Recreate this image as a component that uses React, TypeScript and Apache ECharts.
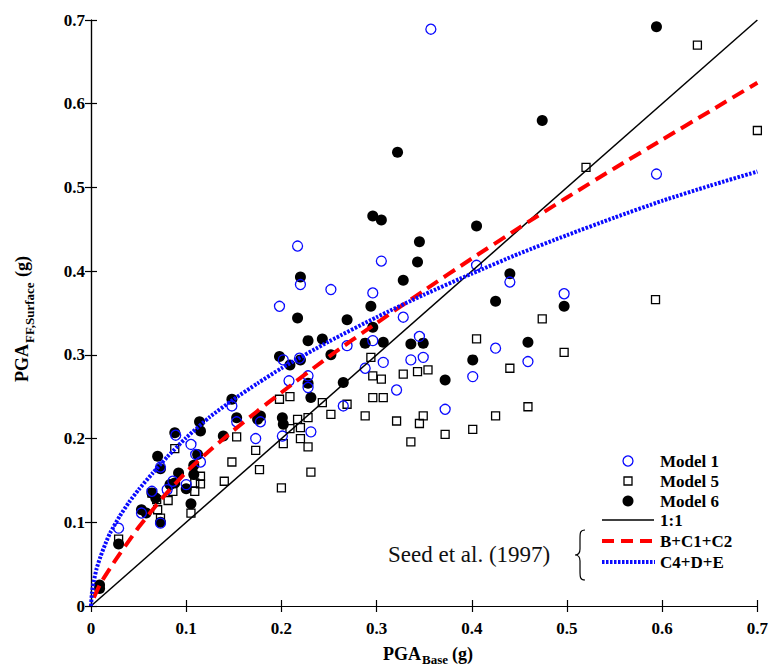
import React, { useEffect, useRef } from "react";
import * as echarts from "echarts";

const tickLabels = ["0", "0.1", "0.2", "0.3", "0.4", "0.5", "0.6", "0.7"];

const model1: number[][] = [
  [0.357, 0.689], [0.594, 0.516], [0.217, 0.43], [0.305, 0.412], [0.22, 0.384],
  [0.252, 0.378], [0.296, 0.374], [0.198, 0.358], [0.328, 0.345], [0.345, 0.322],
  [0.296, 0.317], [0.269, 0.311], [0.202, 0.294], [0.219, 0.296], [0.307, 0.291],
  [0.336, 0.294], [0.349, 0.297], [0.288, 0.284], [0.321, 0.258], [0.208, 0.269],
  [0.228, 0.275], [0.228, 0.261], [0.148, 0.239], [0.265, 0.239], [0.153, 0.22],
  [0.178, 0.22], [0.231, 0.208], [0.173, 0.2], [0.201, 0.203], [0.105, 0.193],
  [0.11, 0.181], [0.115, 0.172], [0.405, 0.407], [0.44, 0.387], [0.497, 0.373],
  [0.425, 0.308], [0.459, 0.292], [0.401, 0.274], [0.372, 0.235], [0.073, 0.166],
  [0.089, 0.204], [0.1, 0.145], [0.08, 0.139], [0.086, 0.149], [0.064, 0.137],
  [0.073, 0.099], [0.053, 0.111], [0.029, 0.093],
];

const model5: number[][] = [
  [0.637, 0.67], [0.52, 0.524], [0.7, 0.568], [0.593, 0.366], [0.294, 0.297],
  [0.328, 0.277], [0.343, 0.28], [0.354, 0.282], [0.296, 0.275], [0.305, 0.271],
  [0.198, 0.247], [0.209, 0.25], [0.243, 0.243], [0.269, 0.241], [0.296, 0.249],
  [0.307, 0.249], [0.288, 0.227], [0.252, 0.229], [0.321, 0.221], [0.345, 0.218],
  [0.349, 0.227], [0.336, 0.196], [0.217, 0.223], [0.228, 0.225], [0.209, 0.212],
  [0.22, 0.213], [0.153, 0.202], [0.22, 0.2], [0.202, 0.194], [0.228, 0.19],
  [0.173, 0.186], [0.474, 0.343], [0.405, 0.319], [0.44, 0.284], [0.497, 0.303],
  [0.372, 0.205], [0.401, 0.211], [0.425, 0.227], [0.459, 0.238], [0.148, 0.172],
  [0.177, 0.163], [0.14, 0.149], [0.2, 0.141], [0.231, 0.16], [0.109, 0.147],
  [0.115, 0.146], [0.109, 0.137], [0.115, 0.155], [0.105, 0.111], [0.086, 0.137],
  [0.088, 0.188], [0.064, 0.135], [0.069, 0.127], [0.07, 0.115], [0.073, 0.105],
  [0.081, 0.126], [0.029, 0.08],
];

const model6: number[][] = [
  [0.594, 0.692], [0.474, 0.58], [0.322, 0.542], [0.296, 0.466], [0.305, 0.461],
  [0.345, 0.435], [0.343, 0.411], [0.22, 0.393], [0.328, 0.389], [0.294, 0.358],
  [0.217, 0.344], [0.269, 0.342], [0.296, 0.333], [0.228, 0.317], [0.243, 0.319],
  [0.288, 0.314], [0.307, 0.315], [0.336, 0.313], [0.349, 0.314], [0.198, 0.298],
  [0.209, 0.288], [0.22, 0.294], [0.252, 0.3], [0.228, 0.266], [0.265, 0.267],
  [0.231, 0.249], [0.148, 0.247], [0.114, 0.22], [0.115, 0.209], [0.153, 0.225],
  [0.178, 0.227], [0.175, 0.223], [0.201, 0.225], [0.202, 0.217], [0.139, 0.203],
  [0.405, 0.454], [0.44, 0.397], [0.425, 0.364], [0.497, 0.358], [0.401, 0.294],
  [0.459, 0.315], [0.372, 0.27], [0.092, 0.159], [0.073, 0.164], [0.07, 0.179],
  [0.088, 0.207], [0.112, 0.181], [0.108, 0.168], [0.108, 0.157], [0.1, 0.14],
  [0.105, 0.122], [0.083, 0.145], [0.088, 0.147], [0.064, 0.135], [0.068, 0.129],
  [0.073, 0.1], [0.053, 0.115], [0.058, 0.111], [0.029, 0.074], [0.009, 0.021],
  [0.009, 0.025],
];

const oneToOne: number[][] = [[0, 0], [0.7, 0.7]];

const curveBC1C2: number[][] = [
  [0.003, 0.01], [0.01, 0.027], [0.02, 0.045], [0.03, 0.062], [0.04, 0.078],
  [0.05, 0.094], [0.075, 0.129], [0.1, 0.16], [0.125, 0.186], [0.15, 0.21],
  [0.175, 0.233], [0.2, 0.255], [0.25, 0.298], [0.3, 0.338], [0.35, 0.377],
  [0.4, 0.415], [0.45, 0.452], [0.5, 0.488], [0.55, 0.523], [0.6, 0.557],
  [0.65, 0.591], [0.7, 0.625],
];

const curveC4DE: number[][] = [
  [0, 0], [0.001, 0.016], [0.003, 0.03], [0.006, 0.045], [0.01, 0.059],
  [0.015, 0.074], [0.02, 0.087], [0.03, 0.107], [0.04, 0.124], [0.05, 0.139],
  [0.065, 0.159], [0.08, 0.178], [0.1, 0.201], [0.125, 0.226], [0.15, 0.247],
  [0.175, 0.266], [0.2, 0.284], [0.25, 0.316], [0.3, 0.345], [0.35, 0.372],
  [0.4, 0.397], [0.45, 0.421], [0.5, 0.443], [0.55, 0.464], [0.6, 0.484],
  [0.65, 0.502], [0.7, 0.519],
];

const FONT = "'Liberation Serif', 'Times New Roman', serif";
const BLUE = "#0a0aff";

let braceRegistered = false;
function registerBrace() {
  if (braceRegistered) return;
  braceRegistered = true;
  const Brace = (echarts.graphic as any).extendPath(
    "M 10 0 C 5 0 5 3 5 9 L 5 19 C 5 23 3 25 0 25 C 3 25 5 27 5 31 L 5 41 C 5 47 5 50 10 50",
    {}
  );
  (echarts.graphic as any).registerShape("brace", Brace);
}

export default function App() {
  const ref = useRef<HTMLDivElement>(null);

  useEffect(() => {
    document.body.style.margin = "0";
    registerBrace();
    const chart = echarts.init(ref.current!, undefined, { renderer: "svg" });

    const axisCommon = {
      type: "value",
      min: 0,
      max: 0.7,
      interval: 0.1,
      splitLine: { show: false },
      axisLine: { show: true, lineStyle: { color: "#000", width: 1.2 } },
      axisTick: { show: true, inside: true, length: 6, lineStyle: { color: "#000", width: 1.2 } },
    };
    const labelStyle = {
      color: "#000",
      fontFamily: FONT,
      fontWeight: "bold",
      fontSize: 17,
      formatter: (v: number) => tickLabels[Math.round(v * 10)],
    };

    const legendY = [461, 481, 501, 520, 541, 562];

    chart.setOption({
      animation: false,
      backgroundColor: "#fff",
      grid: { left: 91, right: 10, top: 20, bottom: 62 },
      xAxis: [
        { ...axisCommon, position: "bottom", axisLabel: { ...labelStyle, margin: 14 } },
        { ...axisCommon, position: "top", axisLabel: { show: false } },
      ],
      yAxis: [
        { ...axisCommon, position: "left", axisLabel: { ...labelStyle, margin: 6 } },
        { ...axisCommon, position: "right", axisLabel: { show: false } },
      ],
      series: [
        {
          name: "Model 5",
          type: "scatter",
          data: model5,
          symbol: "rect",
          symbolSize: 8,
          clip: false,
          silent: true,
          itemStyle: { color: "rgba(0,0,0,0)", borderColor: "#000", borderWidth: 1.3, opacity: 1 },
          z: 2,
        },
        {
          name: "Model 6",
          type: "scatter",
          data: model6,
          symbol: "circle",
          symbolSize: 11,
          clip: false,
          silent: true,
          itemStyle: { color: "#000", opacity: 1 },
          z: 2,
        },
        {
          name: "Model 1",
          type: "scatter",
          data: model1,
          symbol: "circle",
          symbolSize: 10,
          clip: false,
          silent: true,
          itemStyle: { color: "rgba(0,0,0,0)", borderColor: BLUE, borderWidth: 1.3, opacity: 1 },
          z: 3,
        },
        {
          name: "1:1",
          type: "line",
          data: oneToOne,
          showSymbol: false,
          symbol: "none",
          silent: true,
          lineStyle: { color: "#000", width: 1.5 },
          z: 4,
        },
        {
          name: "B+C1+C2",
          type: "line",
          data: curveBC1C2,
          showSymbol: false,
          symbol: "none",
          smooth: 0.2,
          silent: true,
          lineStyle: { color: "#ff0000", width: 4, type: [13, 7] },
          z: 5,
        },
        {
          name: "C4+D+E",
          type: "line",
          data: curveC4DE,
          showSymbol: false,
          symbol: "none",
          smooth: 0.2,
          silent: true,
          lineStyle: { color: BLUE, width: 4, type: [2.5, 1.5] },
          z: 5,
        },
      ],
      graphic: [
        // x-axis title
        { type: "text", left: 383, top: 645, style: { text: "PGA", font: `bold 18px ${FONT}`, fill: "#000" } },
        { type: "text", left: 422, top: 653, style: { text: "Base", font: `bold 13px ${FONT}`, fill: "#000" } },
        { type: "text", left: 452, top: 645, style: { text: "(g)", font: `bold 18px ${FONT}`, fill: "#000" } },
        // y-axis title
        {
          type: "group",
          x: 22,
          y: 318,
          rotation: Math.PI / 2,
          children: [
            { type: "text", x: -64, y: 0, style: { text: "PGA", font: `bold 18px ${FONT}`, fill: "#000", verticalAlign: "middle", align: "left" } },
            { type: "text", x: -25, y: 7, style: { text: "FF,Surface", font: `bold 13px ${FONT}`, fill: "#000", verticalAlign: "middle", align: "left" } },
            { type: "text", x: 41, y: 0, style: { text: "(g)", font: `bold 18px ${FONT}`, fill: "#000", verticalAlign: "middle", align: "left" } },
          ],
        },
        // legend markers
        { type: "circle", shape: { cx: 628, cy: legendY[0], r: 5 }, style: { fill: "none", stroke: BLUE, lineWidth: 1.3 } },
        { type: "rect", shape: { x: 624, y: legendY[1] - 4, width: 8, height: 8 }, style: { fill: "none", stroke: "#000", lineWidth: 1.3 } },
        { type: "circle", shape: { cx: 628, cy: legendY[2], r: 5.5 }, style: { fill: "#000" } },
        { type: "line", shape: { x1: 602, y1: legendY[3], x2: 654, y2: legendY[3] }, style: { stroke: "#000", lineWidth: 1.5 } },
        { type: "line", shape: { x1: 602, y1: legendY[4], x2: 656, y2: legendY[4] }, style: { stroke: "#ff0000", lineWidth: 4, lineDash: [12, 7] } },
        { type: "line", shape: { x1: 602, y1: legendY[5], x2: 655, y2: legendY[5] }, style: { stroke: BLUE, lineWidth: 4, lineDash: [2.5, 1.5] } },
        // legend texts
        ...["Model 1", "Model 5", "Model 6", "1:1", "B+C1+C2", "C4+D+E"].map((t, i) => ({
          type: "text",
          x: 660,
          y: legendY[i],
          style: { text: t, font: `bold 17px ${FONT}`, fill: "#000", verticalAlign: "middle", align: "left" },
        })),
        // brace and note
        { type: "brace", x: 575, y: 530, style: { fill: "none", stroke: "#000", lineWidth: 1.2 } },
        {
          type: "text",
          x: 388,
          y: 554,
          style: { text: "Seed et al. (1997)", font: `23px ${FONT}`, fill: "#111", verticalAlign: "middle", align: "left" },
        },
      ],
    });

    return () => chart.dispose();
  }, []);

  return <div ref={ref} style={{ width: 771, height: 668 }} />;
}
